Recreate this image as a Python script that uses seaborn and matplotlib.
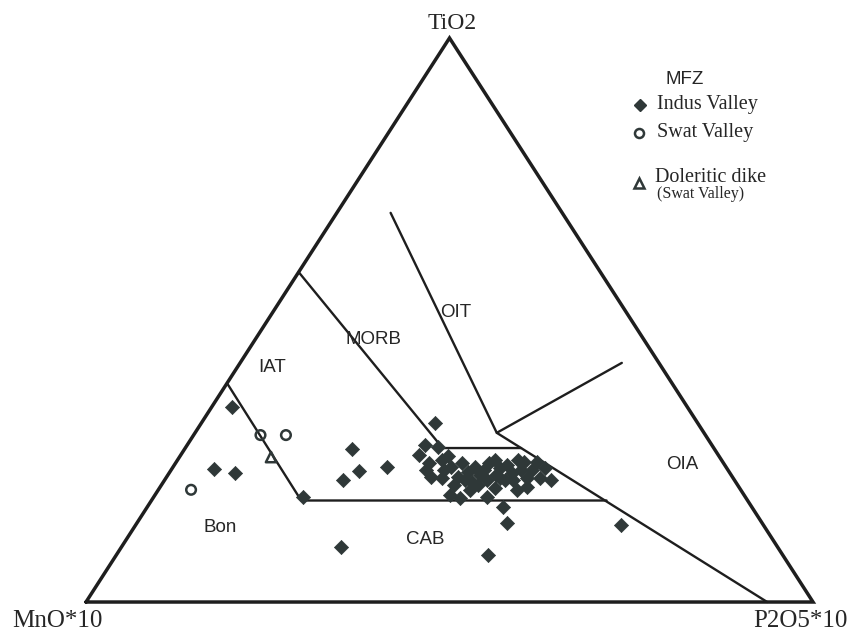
import numpy as np
import pandas as pd
import seaborn as sns
import matplotlib
matplotlib.use('Agg')
import matplotlib.pyplot as plt

# composizioni in % : TiO2, MnO*10, P2O5*10
indus_tio2 = [34.6, 23.6, 22.9, 18.6, 27.1, 23.2, 21.6, 23.9, 9.8, 31.7,
              27.8, 27.5, 26.1, 24.6, 25.2, 23.9, 24.6, 22.2, 22.0, 22.2,
              23.0, 23.9, 22.5, 24.6, 21.6, 22.5, 23.8, 24.3, 22.9, 25.2,
              23.4, 22.0, 21.6, 23.4, 20.4, 23.8, 21.6, 19.9, 19.0, 18.4,
              18.6, 16.8, 14.0, 13.7, 8.3, 23.4, 20.7, 21.6, 20.7, 20.2,
              21.6, 19.9, 22.0, 23.4, 24.8, 23.4, 25.9, 25.2, 24.8, 21.3,
              22.0]
indus_mno = [62.6, 70.6, 68.0, 60.9, 49.8, 50.9, 53.8, 46.6, 60.0, 36.1,
             39.5, 37.9, 41.1, 40.5, 38.5, 37.8, 36.0, 41.4, 40.1, 37.8,
             36.0, 34.6, 34.6, 32.2, 34.1, 32.3, 31.2, 30.0, 30.0, 28.0,
             28.4, 28.3, 30.5, 27.0, 29.2, 25.0, 25.2, 37.3, 40.5, 39.4,
             35.5, 34.3, 35.1, 19.5, 40.5, 39.0, 39.0, 37.1, 35.8, 33.7,
             31.6, 30.8, 26.6, 33.5, 25.6, 41.6, 37.3, 31.2, 27.3, 36.3,
             32.1]
indus_p2o5 = [2.8, 5.8, 9.1, 20.5, 23.1, 25.9, 24.6, 29.5, 30.2, 32.2,
              32.7, 34.6, 32.8, 34.9, 36.3, 38.3, 39.4, 36.4, 37.9, 40.0,
              41.0, 41.5, 42.9, 43.2, 44.3, 45.2, 45.0, 45.7, 47.1, 46.8,
              48.2, 49.7, 47.9, 49.6, 50.4, 51.2, 53.2, 42.8, 40.5, 42.2,
              45.9, 48.9, 50.9, 66.8, 51.2, 37.6, 40.3, 41.3, 43.5, 46.1,
              46.8, 49.3, 51.4, 43.1, 49.6, 35.0, 36.8, 43.6, 47.9, 42.4,
              45.9]

swat_tio2 = [19.9, 29.6, 29.6]
swat_mno = [75.6, 61.2, 57.7]
swat_p2o5 = [4.5, 9.2, 12.7]

dike_tio2 = [25.7]
dike_mno = [61.7]
dike_p2o5 = [12.6]

# limiti dei campi (TiO2, MnO, P2O5)
bon_iat_cab = [(38.8, 61.2, 0.0), (18.0, 61.4, 20.6), (18.0, 19.4, 62.6)]
iat_morb = [(58.5, 41.5, 0.0), (27.3, 37.3, 35.4), (27.3, 26.5, 46.2)]
morb_oit_oia = [(69.0, 23.6, 7.4), (30.0, 28.5, 41.5), (0.0, 6.3, 93.7)]
oit_oia = [(30.0, 28.5, 41.5), (42.4, 5.1, 52.5)]


def tern(tio2, p2o5):
    t = np.asarray(tio2) / 100.0
    p = np.asarray(p2o5) / 100.0
    return p + t / 2.0, t


def frame(tio2, mno, p2o5, name):
    x, y = tern(tio2, p2o5)
    return pd.DataFrame({'x': x, 'y': y, 'grp': name})


df_indus = frame(indus_tio2, indus_mno, indus_p2o5, 'Indus Valley')
df_swat = frame(swat_tio2, swat_mno, swat_p2o5, 'Swat Valley')
df_dike = frame(dike_tio2, dike_mno, dike_p2o5, 'Doleritic dike')

sns.set_style('white')
plt.rcParams['font.family'] = ['Liberation Serif', 'DejaVu Serif']

fig = plt.figure(figsize=(8.65, 6.34), dpi=100)
ax = fig.add_axes([0, 0, 1, 1])
ax.set_xlim(-0.1183, 1.0715)
ax.set_ylim(-0.0567, 1.0674)
ax.axis('off')

ink = '#1e1e1e'
dot = '#2f3838'

# triangolo
tx, ty = tern([0, 0, 100, 0], [0, 100, 0, 0])
ax.plot(tx, ty, color=ink, lw=2.5, solid_joinstyle='miter', zorder=2)

for seg in [bon_iat_cab, iat_morb, morb_oit_oia, oit_oia]:
    sx, sy = tern([s[0] for s in seg], [s[2] for s in seg])
    ax.plot(sx, sy, color=ink, lw=1.7, zorder=2)

sns.scatterplot(data=df_indus, x='x', y='y', marker='D', s=52, color=dot,
                edgecolor=dot, linewidth=0.5, legend=False, ax=ax, zorder=3)
sns.scatterplot(data=df_swat, x='x', y='y', marker='o', s=48,
                facecolor='none', edgecolor=dot, linewidth=1.8,
                legend=False, ax=ax, zorder=3)
sns.scatterplot(data=df_dike, x='x', y='y', marker='^', s=55,
                facecolor='none', edgecolor=dot, linewidth=1.8,
                legend=False, ax=ax, zorder=3)
ax.set_xlabel('')
ax.set_ylabel('')

# etichette vertici
ax.text(0.503, 1.025, 'TiO2', ha='center', va='center', fontsize=17)
ax.text(-0.040, -0.034, 'MnO*10', ha='center', va='center', fontsize=18)
ax.text(0.982, -0.034, 'P2O5*10', ha='center', va='center', fontsize=18)

# etichette campi
sans = ['Liberation Sans', 'DejaVu Sans']
for lab, x, y in [('MORB', 0.395, 0.465), ('OIT', 0.509, 0.514),
                  ('IAT', 0.256, 0.415), ('OIA', 0.820, 0.243),
                  ('Bon', 0.184, 0.133), ('CAB', 0.466, 0.110)]:
    ax.text(x, y, lab, ha='center', va='center', fontsize=13.5, family=sans)

# legenda
W, H = 865.0, 634.0
def fx(px):
    return px / W
def fy(py):
    return 1 - py / H

ax.text(fx(685), fy(80), 'MFZ', transform=ax.transAxes, ha='center',
        va='center', fontsize=13.5, family=sans)
ax.plot([fx(640)], [fy(105)], marker='D', ms=6, color=dot,
        transform=ax.transAxes, clip_on=False)
ax.text(fx(657), fy(105), 'Indus Valley', transform=ax.transAxes,
        va='center', fontsize=14.5)
ax.plot([fx(639)], [fy(133)], marker='o', ms=6.5, mfc='none', mec=dot, mew=1.8,
        transform=ax.transAxes, clip_on=False)
ax.text(fx(657), fy(133), 'Swat Valley', transform=ax.transAxes,
        va='center', fontsize=14.5)
ax.plot([fx(639)], [fy(183)], marker='^', ms=7, mfc='none', mec=dot, mew=1.8,
        transform=ax.transAxes, clip_on=False)
ax.text(fx(655), fy(178), 'Doleritic dike', transform=ax.transAxes,
        va='center', fontsize=14.5)
ax.text(fx(657), fy(194), '(Swat Valley)', transform=ax.transAxes,
        va='center', fontsize=11.5)

fig.savefig('out.png', dpi=100)
